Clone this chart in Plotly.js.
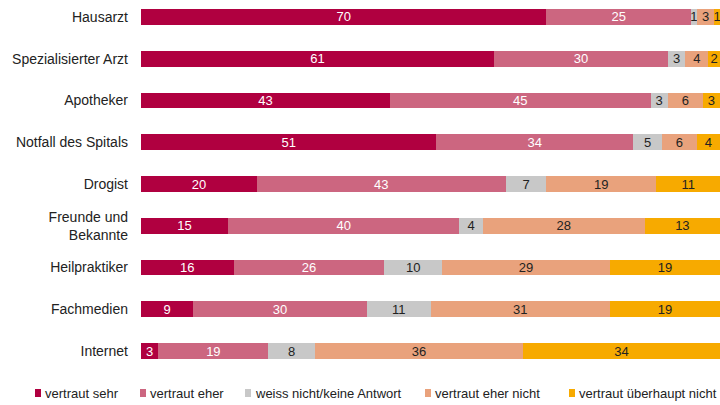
<!DOCTYPE html>
<html><head><meta charset="utf-8">
<script src="https://cdn.plot.ly/plotly-3.0.1.min.js"></script>
<style>body{margin:0}#c{width:720px;height:405px}</style>
</head><body><div id="c"></div>
<script>
const categories = ["Hausarzt","Spezialisierter Arzt","Apotheker","Notfall des Spitals","Drogist","Freunde und<br>Bekannte","Heilpraktiker","Fachmedien","Internet"];
const seriesNames = ["vertraut sehr","vertraut eher","weiss nicht/keine Antwort","vertraut eher nicht","vertraut überhaupt nicht"];
const sehr = [70,61,43,51,20,15,16,9,3];
const eher = [25,30,45,34,43,40,26,30,19];
const weissNicht = [1,3,3,5,7,4,10,11,8];
const eherNicht = [3,4,6,6,19,28,29,31,36];
const ueberhauptNicht = [1,2,3,4,11,13,19,19,34];
const values = [sehr,eher,weissNicht,eherNicht,ueberhauptNicht];

const colors = ["#B00040","#CC6680","#C8C8C8","#E9A27C","#F7AA00"];
const textColors = ["#ffffff","#ffffff","#222222","#222222","#222222"];
const FONT = 'Liberation Sans, Arial, sans-serif';

// layout geometry (pixels)
const W = 720, H = 405, ML = 141, MB = 35;
const plotW = W - ML, plotH = H - MB;
const legendSquareX = [35, 140, 245, 425, 569];
const legendY = 393;

const traces = values.map((v,i)=>({
  type:'bar', orientation:'h', name:seriesNames[i], y:categories, x:v,
  marker:{color:colors[i], line:{width:0}}, text:v.map(String), textposition:'inside',
  insidetextanchor:'middle', constraintext:'none', textangle:0,
  textfont:{color:textColors[i], size:13, family:FONT},
  hoverinfo:'none', showlegend:false
}));

const toPX = px => (px - ML) / plotW;
const toPY = py => 1 - py / plotH;
const shapes = seriesNames.map((n,i)=>({
  type:'rect', xref:'paper', yref:'paper',
  x0:toPX(legendSquareX[i]), x1:toPX(legendSquareX[i]+6),
  y0:toPY(legendY+4), y1:toPY(legendY-4),
  fillcolor:colors[i], line:{width:0}
}));
const annotations = seriesNames.map((n,i)=>({
  xref:'paper', yref:'paper', x:toPX(legendSquareX[i]+8), y:toPY(legendY),
  xanchor:'left', yanchor:'middle', showarrow:false, text:n,
  font:{size:13, color:'#222', family:FONT}
}));

const layout = {
  barmode:'stack', bargap:0.62,
  width:W, height:H,
  margin:{l:ML,r:0,t:0,b:MB},
  paper_bgcolor:'#fff', plot_bgcolor:'#fff',
  font:{family:FONT, size:14, color:'#222'},
  xaxis:{range:[0,100], visible:false, fixedrange:true},
  yaxis:{type:'category', range:[8.455,-0.407], showgrid:false, showline:false, zeroline:false,
         ticks:'', ticklen:0, automargin:false, ticklabelstandoff:12, tickfont:{size:14,color:'#222'}},
  showlegend:false,
  shapes:shapes, annotations:annotations
};
Plotly.newPlot('c', traces, layout, {staticPlot:true});
</script></body></html>
